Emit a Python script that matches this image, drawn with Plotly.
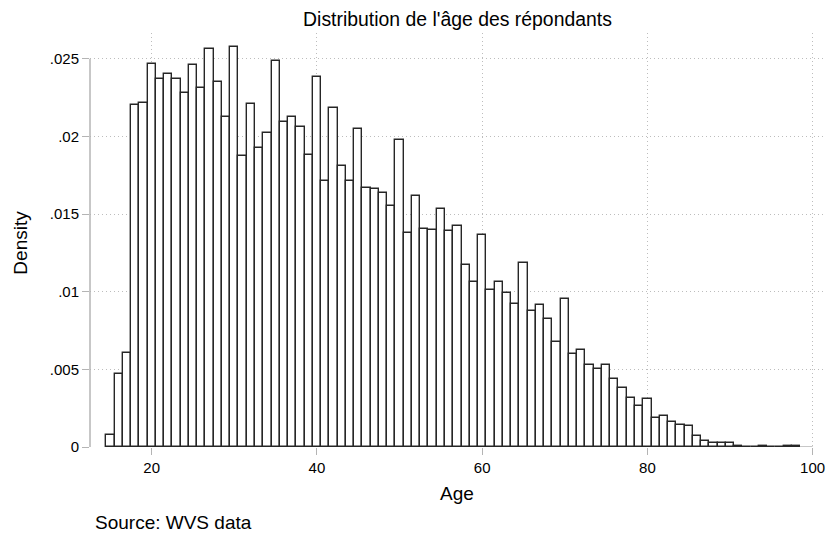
import plotly.graph_objects as go

ages = list(range(15, 99))
density = [
    0.00077, 0.00468, 0.00606, 0.02201, 0.02216, 0.02466, 0.02367, 0.02403, 0.02371, 0.02281,
    0.02457, 0.02313, 0.02562, 0.02350, 0.02126, 0.02579, 0.01877, 0.02208, 0.01927, 0.02025,
    0.02483, 0.02090, 0.02128, 0.02060, 0.01881, 0.02382, 0.01710, 0.02184, 0.01811, 0.01716,
    0.02051, 0.01671, 0.01660, 0.01634, 0.01553, 0.01978, 0.01381, 0.01615, 0.01405, 0.01398,
    0.01531, 0.01392, 0.01422, 0.01173, 0.01061, 0.01365, 0.01011, 0.01064, 0.00991, 0.00923,
    0.01187, 0.00876, 0.00916, 0.00824, 0.00678, 0.00951, 0.00601, 0.00624, 0.00526, 0.00502,
    0.00526, 0.00438, 0.00378, 0.00313, 0.00266, 0.00309, 0.00189, 0.00197, 0.00162, 0.00144,
    0.00136, 0.00073, 0.00041, 0.00026, 0.00025, 0.00026, 0.00008, 0.00003, 0.00002, 0.00005,
    0.00001, 0.00001, 0.00004, 0.00004,
]

x_ticks = [20, 40, 60, 80, 100]
y_ticks = [0, 0.005, 0.01, 0.015, 0.02, 0.025]
y_tick_labels = ["0", ".005", ".01", ".015", ".02", ".025"]

title_text = "Distribution de l'âge des répondants"
x_title = "Age"
y_title = "Density"
note_text = "Source: WVS data"

FONT = "Liberation Sans, Arial, Helvetica, sans-serif"
AXIS_GREY = "#b4b4b4"
GRID_GREY = "#bdbdbd"

W, H = 827, 538
PL, PR, PT, PB = 90, 825, 33, 446.7
PW, PH = PR - PL, PB - PT

fig = go.Figure()
fig.add_trace(go.Bar(
    x=ages, y=density, width=1,
    marker=dict(color="white", line=dict(color="#262626", width=1.4)),
    showlegend=False,
))

fig.update_layout(
    width=W, height=H,
    margin=dict(l=PL, r=W - PR, t=PT, b=H - PB, autoexpand=False),
    plot_bgcolor="white", paper_bgcolor="white",
    bargap=0,
    font=dict(family=FONT, color="black"),
    title=dict(text=title_text, x=457.5 / W, xanchor="center", y=1 - 19 / H, yanchor="middle",
               font=dict(size=19.4, family=FONT, color="black")),
    xaxis=dict(
        range=[12.53, 101.5], tickvals=x_ticks, ticks="outside", ticklen=7, tickcolor=AXIS_GREY,
        tickwidth=1, showline=False, zeroline=False,
        showgrid=True, gridcolor=GRID_GREY, griddash="1px,3px", gridwidth=1,
        tickfont=dict(size=15, family=FONT, color="black"),
    ),
    yaxis=dict(
        range=[0, 0.02666], tickvals=y_ticks, ticktext=y_tick_labels, ticks="outside", ticklen=7,
        tickcolor=AXIS_GREY, tickwidth=1, showline=False, zeroline=False,
        showgrid=True, gridcolor=GRID_GREY, griddash="1px,3px", gridwidth=1,
        tickfont=dict(size=15, family=FONT, color="black"),
    ),
    annotations=[
        dict(text=y_title, xref="paper", yref="paper", x=(20.5 - PL) / PW, y=(PB - 243) / PH,
             textangle=-90, showarrow=False, xanchor="center", yanchor="middle",
             font=dict(size=19, family=FONT)),
        dict(text=x_title, xref="paper", yref="paper", x=(457 - PL) / PW, y=(PB - 493) / PH,
             showarrow=False, xanchor="center", yanchor="middle", font=dict(size=19, family=FONT)),
        dict(text=note_text, xref="paper", yref="paper", x=(93 - PL) / PW, y=(PB - 522) / PH,
             showarrow=False, xanchor="left", yanchor="middle", font=dict(size=19, family=FONT)),
    ],
    shapes=[
        dict(type="line", xref="paper", yref="y", x0=0, x1=0, y0=y_ticks[0], y1=y_ticks[-1],
             line=dict(color=AXIS_GREY, width=1.5), layer="above"),
        dict(type="line", xref="x", yref="y", x0=ages[0] - 0.5, x1=x_ticks[-1], y0=0, y1=0,
             line=dict(color=AXIS_GREY, width=1.5), layer="below"),
    ],
)

fig.write_html(
    "out.html",
    config={"displayModeBar": False},
    post_script="document.body.style.margin='0';document.body.style.overflow='hidden';",
)
